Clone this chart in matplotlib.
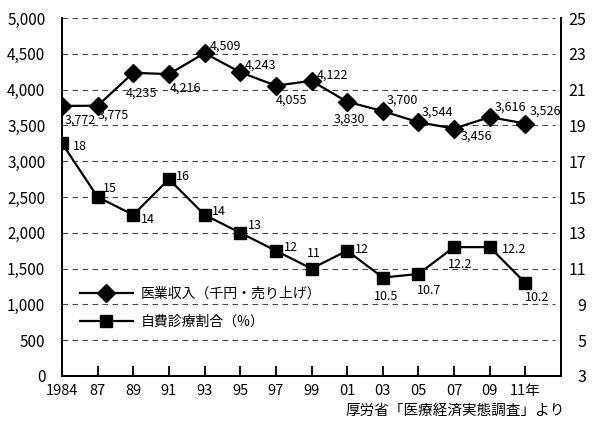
import matplotlib
matplotlib.use('Agg')
from matplotlib import pyplot as plt

plt.rcParams['font.family'] = ['Noto Sans CJK JP', 'DejaVu Sans']

# data
years = ['1984', '87', '89', '91', '93', '95', '97', '99', '01', '03', '05', '07', '09', '11年']
income = [3772, 3775, 4235, 4216, 4509, 4243, 4055, 4122, 3830, 3700, 3544, 3456, 3616, 3526]
self_pay = [18, 15, 14, 16, 14, 13, 12, 11, 12, 10.5, 10.7, 12.2, 12.2, 10.2]
left_ticks = [0, 500, 1000, 1500, 2000, 2500, 3000, 3500, 4000, 4500, 5000]
right_ticks = [5, 7, 9, 11, 13, 15, 17, 19, 21, 23, 25]
right_labels = ['3', '5', '9', '11', '13', '15', '17', '19', '21', '23', '25']

# label offsets in pixels (dx, dy), dy downwards
income_off = [(18, 14), (16, 9), (8, 20), (17, 14), (21, -7), (20, -7), (16, 14),
              (21, -6), (2, 17), (20, -11), (19, -10), (22, 8), (21, -10), (20, -12)]
pay_off = [(18, 3), (12, -9), (15, 5), (14, -3), (14, -3), (15, -7), (15, -3),
           (2, -15), (15, -1), (3, 19), (11, 17), (6, 17), (24, 2), (12, 15)]

fig = plt.figure(figsize=(6, 4.3), dpi=100)
ax = fig.add_axes([62/600, 1-376/430, (561-62)/600, (376-18)/430])
ax2 = ax.twinx()

x = list(range(len(years)))

for y in left_ticks[1:]:
    ax.axhline(y, xmin=0, xmax=0.988, color='#444444', lw=0.8, ls=(0, (5, 4)), zorder=1)

l1, = ax.plot(x, income, color='black', lw=1.6, marker='D', ms=9, zorder=3,
              label='医業収入（千円・売り上げ）')
l2, = ax2.plot(x, self_pay, color='black', lw=1.6, marker='s', ms=9, zorder=3,
               label='自費診療割合（%）')

for i, v in enumerate(income):
    dx, dy = income_off[i]
    ax.annotate(f'{v:,}', (i, v), xytext=(dx, -dy), textcoords='offset pixels',
                ha='center', va='center', fontsize=9)
for i, v in enumerate(self_pay):
    dx, dy = pay_off[i]
    ax2.annotate(f'{v:g}', (i, v), xytext=(dx, -dy), textcoords='offset pixels',
                 ha='center', va='center', fontsize=9)

ax.set_xlim(0, 14)
ax.set_ylim(0, 5000)
ax2.set_ylim(5, 25)

ax.set_xticks(x)
ax.set_xticklabels(years, fontsize=10.5)
ax.set_yticks(left_ticks)
ax.set_yticklabels([f'{t:,}' for t in left_ticks], fontsize=11)
ax2.set_yticks(right_ticks)
ax2.set_yticklabels(right_labels, fontsize=11.5)
for lbl in ax2.get_yticklabels():
    lbl.set_ha('right')

ax.tick_params(axis='x', direction='in', length=7, width=1.3, pad=6)
ax.tick_params(axis='y', length=0, pad=12)
ax2.tick_params(axis='y', length=0, pad=18)

for a in (ax, ax2):
    a.spines['top'].set_visible(False)
    for s in ('left', 'right', 'bottom'):
        a.spines[s].set_linewidth(1.3)

ax2.legend(handles=[l1, l2], loc='center left', bbox_to_anchor=(0.036, 0.191),
           frameon=False, fontsize=10, handlelength=3.8, handletextpad=0.6,
           labelspacing=1.0, borderpad=0, borderaxespad=0)

fig.text(565/600, 1-411/430, '厚労省「医療経済実態調査」より', ha='right', va='center', fontsize=10.5)

fig.savefig('out.png', dpi=100)
